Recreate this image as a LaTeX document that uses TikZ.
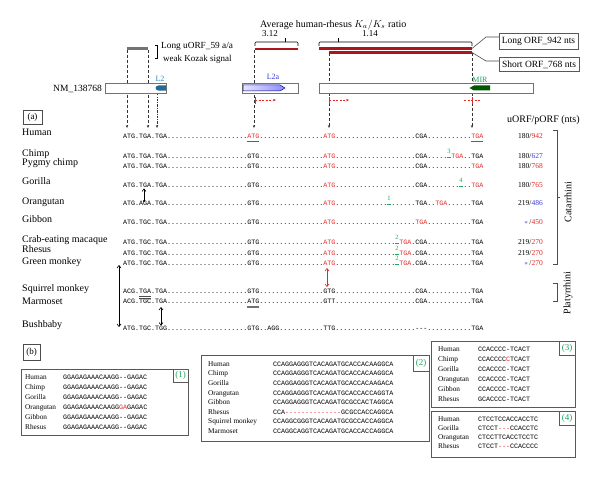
\documentclass[tikz,border=0pt]{standalone}
\usepackage{fontspec}
\setmainfont{Liberation Serif}
\newfontfamily\seqfont{Liberation Mono}
\usetikzlibrary{arrows.meta}
\definecolor{myred}{RGB}{228,40,40}
\definecolor{darkred}{RGB}{170,22,28}
\definecolor{myblue}{RGB}{60,60,210}
\definecolor{mygreen}{RGB}{30,165,95}
\definecolor{tealb}{RGB}{50,130,185}
\ExplSyntaxOn
\newcommand\dts[1]{\prg_replicate:nn{#1}{.}}
\newcommand\hy[1]{\prg_replicate:nn{#1}{{-}}}
\ExplSyntaxOff
\newcommand\rd[1]{\textcolor{myred}{#1}}
\newcommand\bl[1]{\textcolor{myblue}{#1}}
\begin{document}
\begin{tikzpicture}[x=1pt,y=-1pt,
  lab/.style={font=\fontsize{10}{12}\selectfont, inner sep=0pt, anchor=base west},
  mid/.style={font=\fontsize{9}{11}\selectfont, inner sep=0pt},
  seq/.style={font=\seqfont\fontsize{6.67}{8}\selectfont, inner sep=0pt, anchor=base west},
  bname/.style={font=\fontsize{7.3}{9}\selectfont, inner sep=0pt, anchor=base west},
  val/.style={font=\fontsize{7.5}{9}\selectfont, inner sep=0pt, anchor=base east},
  vd/.style={dash pattern=on 3pt off 2pt, line width=0.6pt, black!80},
  tip/.style={-{Stealth[length=3pt,width=2.4pt]}},
  barb/.style={line width=0.6pt, {Straight Barb[length=2.5pt,width=4pt]}-{Straight Barb[length=2.5pt,width=4pt]}},
  gnum/.style={font=\fontsize{6.5}{7}\selectfont, text=mygreen, inner sep=0pt, anchor=south},
  frame/.style={draw=black!65, line width=0.6pt, fill=white},
  gtag/.style={font=\fontsize{9}{10}\selectfont, text=mygreen, inner sep=0pt},
  rdash/.style={myred, dash pattern=on 2pt off 1.5pt, line width=0.6pt},
  gdash/.style={mygreen, line width=0.6pt}
]
\fill[white] (0,0) rectangle (600,478);
\useasboundingbox (0,0) rectangle (600,478);

% ---------- top: header texts and brackets
\node[font=\fontsize{10}{12}\selectfont, inner sep=0pt, anchor=base west] (avg) at (260,27.5) {Average human-rhesus $K_a/K_s$ ratio};
\node[mid] (r312) at (270,34) {3.12};
\node[mid] (r114) at (370,34) {1.14};
\draw[line width=0.6pt, rounded corners=1pt] (255,46) -- (255,42) -- (298,42) -- (298,46);
\draw[line width=0.6pt] (285,42) -- (285,38.5);
\draw[line width=0.6pt, rounded corners=1pt] (319,46) -- (319,42) -- (472,42) -- (472,46);
\draw[line width=0.6pt] (338,42) -- (338,38.5);

% uORF bar and label
\draw[line width=0.5pt] (155,45) -- (157.5,45) -- (157.5,58) -- (155,58);
\node[font=\fontsize{9.3}{11}\selectfont, inner sep=0pt, anchor=base west] (uorf1) at (161,48.5) {Long uORF\_59 a/a};
\node[mid, anchor=base west] (uorf2) at (163,61.5) {weak Kozak signal};

% dashed verticals
\draw[vd,tip] (127,50) -- (127,128);
\draw[vd,tip] (148,50) -- (148,128);
\draw[dash pattern=on 2.5pt off 1.2pt on 0.8pt off 1.2pt, line width=0.6pt, black!80, tip] (157,93) -- (157,128);
\draw[vd,tip] (254,50) -- (254,128);
\draw[vd,tip] (329,53) -- (329,128);
\draw[vd,tip] (472,53) -- (472,128);

\draw[line width=3pt, black!55] (127,49) -- (148,49);
\draw[line width=2.6pt, darkred] (255,49) -- (298,49);
\draw[line width=2.4pt, darkred] (319,48.6) -- (472,48.6);
\draw[line width=2.6pt, darkred] (329,52.3) -- (472,52.3);

% callouts
\draw[black!70, line width=0.6pt] (472,48.5) -- (486,37) -- (499,37);
\draw[black!70, line width=0.6pt] (472,52.5) -- (486,61) -- (499,61);
\draw[frame] (499,33) rectangle (578,49);
\node[font=\fontsize{9.5}{11}\selectfont, inner sep=0pt] (lorf) at (538.5,41.5) {Long ORF\_942 nts};
\draw[frame] (499,57) rectangle (579,71);
\node[font=\fontsize{9.5}{11}\selectfont, inner sep=0pt] (sorf) at (539,64.5) {Short ORF\_768 nts};

% transcript boxes
\node[font=\fontsize{9.5}{11}\selectfont, inner sep=0pt, anchor=base east] (nm) at (102,92) {NM\_138768};
\draw[frame, draw=black!55] (105,83) rectangle (166,93);
\draw[frame, draw=black!55] (242,83) rectangle (298,93);
\draw[frame, draw=black!55] (319,83) rectangle (533,93);
\fill[tealb!80!black] (166,85.3) -- (159,85.3) .. controls (154.5,85.3) and (154.5,90.7) .. (159,90.7) -- (166,90.7) -- cycle;
\shade[left color=blue!10, right color=blue!45, draw=blue!55!black, line width=0.5pt] (243,85) -- (280,85) -- (285,88) -- (280,91) -- (243,91) -- cycle;
\fill[green!35!black] (490,85.5) -- (474,85.5) -- (469.5,88) -- (474,90.5) -- (490,90.5) -- cycle;
\node[font=\fontsize{8}{9}\selectfont, text=tealb, inner sep=0pt] (l2) at (160,79) {L2};
\node[font=\fontsize{8}{9}\selectfont, text=myblue, inner sep=0pt] (l2a) at (273,77) {L2a};
\node[font=\fontsize{8}{9}\selectfont, text=mygreen, inner sep=0pt] (mir) at (480,79.5) {MIR};

% red dashed arrows
\draw[myred, line width=0.6pt] (255,97) -- (255,104);
\draw[rdash, tip] (255,100) -- (276,100);
\draw[myred, line width=0.6pt] (329,97) -- (329,104);
\draw[rdash, tip] (329,100) -- (349,100);
\draw[myred, line width=0.6pt] (472,97) -- (472,104);
\draw[rdash] (464,100) -- (480,100);

% ---------- (a) section
\node[draw=black!70, line width=0.6pt, font=\fontsize{9}{10}\selectfont, minimum width=19pt, minimum height=14pt, inner sep=0pt] (atag) at (32.5,117.5) {(a)};
\node[font=\fontsize{10}{12}\selectfont, inner sep=0pt, anchor=base west] (hdr) at (507,122.5) {uORF/pORF (nts)};

\node[lab] (nHuman) at (22,136) {Human};
\node[lab] (nChimp) at (22,156.5) {Chimp};
\node[lab] (nPygmy) at (22,165.5) {Pygmy chimp};
\node[lab] (nGorilla) at (22,184.5) {Gorilla};
\node[lab] (nOrang) at (22,205) {Orangutan};
\node[lab] (nGibbon) at (22,223) {Gibbon};
\node[lab] (nCrab) at (22,242.5) {Crab-eating macaque};
\node[lab] (nRhesus) at (22,253) {Rhesus};
\node[lab] (nGreen) at (22,265) {Green monkey};
\node[lab] (nSquirrel) at (22,292) {Squirrel monkey};
\node[lab] (nMarmoset) at (22,305) {Marmoset};
\node[lab] (nBush) at (22,328) {Bushbaby};

\node[seq] (sHuman) at (123,139) {ATG.TGA.TGA\dts{20}\rd{ATG}\dts{16}\rd{ATG}\dts{20}CGA\dts{11}\rd{TGA}};
\node[seq] (sChimp) at (123,159) {ATG.TGA.TGA\dts{20}GTG\dts{16}\rd{ATG}\dts{20}CGA\dts{6}\rd{TGA}\dts{2}TGA};
\node[seq] (sPygmy) at (123,169) {ATG.TGA.TGA\dts{20}GTG\dts{16}\rd{ATG}\dts{20}CGA\dts{11}\rd{TGA}};
\node[seq] (sGorilla) at (123,188) {ATG.TGA.TGA\dts{20}GTG\dts{16}\rd{ATG}\dts{20}CGA\dts{11}\rd{TGA}};
\node[seq] (sOrang) at (123,206) {ATG.AGA.TGA\dts{20}GTG\dts{16}\rd{ATG}\dts{20}TGA\dts{2}\rd{TGA}\dts{6}TGA};
\node[seq] (sGibbon) at (123,225) {ATG.TGC.TGA\dts{20}GTG\dts{16}\rd{ATG}\dts{20}\rd{TGA}\dts{11}TGA};
\node[seq] (sCrab) at (123,245) {ATG.TGC.TGA\dts{20}GTG\dts{16}\rd{ATG}\dts{16}\rd{TGA}.CGA\dts{11}TGA};
\node[seq] (sRhesus) at (123,256) {ATG.TGC.TGA\dts{20}GTG\dts{16}\rd{ATG}\dts{16}\rd{TGA}.CGA\dts{11}TGA};
\node[seq] (sGreen) at (123,266) {ATG.TGC.TGA\dts{20}GTG\dts{16}\rd{ATG}\dts{16}\rd{TGA}.CGA\dts{11}TGA};
\node[seq] (sSquirrel) at (123,294) {ACG.TGA.TGA\dts{20}GTG\dts{16}GTG\dts{20}CGA\dts{11}TGA};
\node[seq] (sMarmoset) at (123,304) {ACG.TGC.TGA\dts{20}ATG\dts{16}GTT\dts{20}CGA\dts{11}TGA};
\node[seq] (sBush) at (123,331) {ATG.TGC.TGG\dts{20}GTG..AGG\dts{11}TTG\dts{20}{-}{-}{-}\dts{11}TGA};

% underlines / overlines
\draw[myred, line width=1pt] (247,141.8) -- (259,141.8);
\draw[myred, line width=1pt] (471,141.8) -- (483,141.8);
\draw[black!70, line width=0.6pt] (139,296.4) -- (151,296.4);
\draw[black!70, line width=0.6pt] (139,298.6) -- (151,298.6);
\draw[black!55, line width=0.5pt] (247,306.2) -- (259,306.2);
\draw[black!55, line width=0.5pt] (247,307.6) -- (259,307.6);

% green markers
\node[gnum] (g3) at (449,154) {3};
\draw[gdash] (447,157) -- (450.5,157);
\node[gnum] (g4) at (461,183) {4};
\draw[gdash] (459,186) -- (462.5,186);
\node[gnum] (g1) at (389,201) {1};
\draw[gdash] (387,204) -- (390.5,204);
\node[gnum] (g2a) at (397,240) {2};
\draw[gdash] (395,243) -- (398.5,243);
\node[gnum] (g2b) at (397,251) {2};
\draw[gdash] (395,254) -- (398.5,254);
\node[gnum] (g2c) at (397,261) {2};
\draw[gdash] (395,264) -- (398.5,264);

% arrows between rows
\draw[line width=0.6pt, -{Straight Barb[length=2.5pt,width=4pt]}] (144,201) -- (144,188.5);
\fill (144,201) circle (1.1pt);
\draw[barb] (119,265) -- (119,327);
\draw[barb] (161,307) -- (161,325.5);
\draw[barb, myred] (327,268) -- (327,287);

% values
\node[val] (vHuman) at (543,139) {180/\rd{942}};
\node[val] (vChimp) at (543,159) {180/\bl{627}};
\node[val] (vPygmy) at (543,169) {180/\rd{768}};
\node[val] (vGorilla) at (543,188) {180/\rd{765}};
\node[val] (vOrang) at (543,206) {219/\bl{486}};
\node[val] (vGibbon) at (543,225) {\bl{$\ast$}\,/\rd{450}};
\node[val] (vCrab) at (543,245) {219/\rd{270}};
\node[val] (vRhesus) at (543,256) {219/\rd{270}};
\node[val] (vGreen) at (543,266) {\bl{$\ast$}\,/\rd{270}};

% clade brackets
\draw[black!70, line width=0.6pt] (553,130) -- (557,130) -- (557,264) -- (553,264);
\draw[black!70, line width=0.6pt] (557,197) -- (560,197);
\node[font=\fontsize{10}{12}\selectfont, rotate=90, inner sep=0pt] (cat) at (568,202) {Catarrhini};
\draw[black!70, line width=0.6pt] (553,283) -- (557,283) -- (557,301) -- (553,301);
\node[font=\fontsize{10}{12}\selectfont, rotate=90, inner sep=0pt] (pla) at (568,293) {Platyrrhini};

% ---------- (b) section
\node[draw=black!70, line width=0.6pt, font=\fontsize{9}{10}\selectfont, minimum width=17pt, minimum height=16pt, inner sep=0pt] (btag) at (31.5,352) {(b)};

% box 1
\draw[frame] (21,369) rectangle (188,435);
\draw[frame] (173,369) rectangle (188,382);
\node[gtag] (t1) at (180.5,375.8) {(1)};
\node[bname] (b1n1) at (25,379.5) {Human};      \node[seq] (b1s1) at (63,379.5) {GGAGAGAAACAAGG\hy{2}GAGAC};
\node[bname] (b1n2) at (25,389.5) {Chimp};      \node[seq] (b1s2) at (63,389.5) {GGAGAGAAACAAGG\hy{2}GAGAC};
\node[bname] (b1n3) at (25,399.5) {Gorilla};    \node[seq] (b1s3) at (63,399.5) {GGAGAGAAACAAGG\hy{2}GAGAC};
\node[bname] (b1n4) at (25,409.5) {Orangutan};  \node[seq] (b1s4) at (63,409.5) {GGAGAGAAACAAGG\rd{GA}GAGAC};
\node[bname] (b1n5) at (25,419.5) {Gibbon};     \node[seq] (b1s5) at (63,419.5) {GGAGAGAAACAAGG\hy{2}GAGAC};
\node[bname] (b1n6) at (25,429.5) {Rhesus};     \node[seq] (b1s6) at (63,429.5) {GGAGAGAAACAAGG\hy{2}GAGAC};

% box 2
\draw[frame] (201,355) rectangle (429,441);
\draw[frame] (413,355) rectangle (429,371);
\node[gtag] (t2) at (421,363.2) {(2)};
\node[bname] (b2n1) at (208,366.5) {Human};           \node[seq] (b2s1) at (273,366.5) {CCAGGAGGGTCACAGATGCACCACAAGGCA};
\node[bname] (b2n2) at (208,376) {Chimp};             \node[seq] (b2s2) at (273,376) {CCAGGAGGGTCACAGATGCACCACAAGGCA};
\node[bname] (b2n3) at (208,385.6) {Gorilla};         \node[seq] (b2s3) at (273,385.6) {CCAGGAGGGTCACAGATGCACCACAAGACA};
\node[bname] (b2n4) at (208,395.2) {Orangutan};       \node[seq] (b2s4) at (273,395.2) {CCAGGAGGGTCACAGATGCACCACCAGGTA};
\node[bname] (b2n5) at (208,404.7) {Gibbon};          \node[seq] (b2s5) at (273,404.7) {CCAGGAGGGTCACAGATGCGCCACTAGGCA};
\node[bname] (b2n6) at (208,414.3) {Rhesus};          \node[seq] (b2s6) at (273,414.3) {CCA\rd{\hy{14}}GCGCCACCAGGCA};
\node[bname] (b2n7) at (208,423.8) {Squirrel monkey}; \node[seq] (b2s7) at (273,423.8) {CCAGGCGGGTCACAGATGCGCCACCAGGCA};
\node[bname] (b2n8) at (208,433.4) {Marmoset};        \node[seq] (b2s8) at (273,433.4) {CCAGGCAGGTCACAGATGCACCACCAGGCA};

% box 3
\draw[frame] (431,341) rectangle (575,407);
\draw[frame] (559,341) rectangle (575,355);
\node[gtag] (t3) at (567,348.2) {(3)};
\node[bname] (b3n1) at (438,351.5) {Human};     \node[seq] (b3s1) at (478,351.5) {CCACCCC{-}TCACT};
\node[bname] (b3n2) at (438,361.4) {Chimp};     \node[seq] (b3s2) at (478,361.4) {CCACCCC\rd{C}TCACT};
\node[bname] (b3n3) at (438,371.3) {Gorilla};   \node[seq] (b3s3) at (478,371.3) {CCACCCC{-}TCACT};
\node[bname] (b3n4) at (438,381.2) {Orangutan}; \node[seq] (b3s4) at (478,381.2) {CCACCCC{-}TCACT};
\node[bname] (b3n5) at (438,391.1) {Gibbon};    \node[seq] (b3s5) at (478,391.1) {CCACCCC{-}TCACT};
\node[bname] (b3n6) at (438,401) {Rhesus};      \node[seq] (b3s6) at (478,401) {GCACCCC{-}TCACT};

% box 4
\draw[frame] (431,411) rectangle (575,457);
\draw[frame] (559,411) rectangle (575,425);
\node[gtag] (t4) at (567,418.2) {(4)};
\node[bname] (b4n1) at (438,421.5) {Human};     \node[seq] (b4s1) at (478,421.5) {CTCCTCCACCACCTC};
\node[bname] (b4n2) at (438,430.5) {Gorilla};   \node[seq] (b4s2) at (478,430.5) {CTCCT\rd{\hy{3}}CCACCTC};
\node[bname] (b4n3) at (438,439.5) {Orangutan}; \node[seq] (b4s3) at (478,439.5) {CTCCTTCACCTCCTC};
\node[bname] (b4n4) at (438,448.5) {Rhesus};    \node[seq] (b4s4) at (478,448.5) {CTCCT\rd{\hy{3}}CCACCCC};
\end{tikzpicture}
\end{document}
